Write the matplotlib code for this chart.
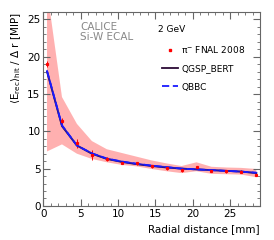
import numpy as np
import matplotlib
matplotlib.use("Agg")
import matplotlib.pyplot as plt
from matplotlib.ticker import MultipleLocator
from matplotlib.lines import Line2D

plt.rcParams["mathtext.default"] = "regular"

# radial bins [mm]
r = [0.5, 2.5, 4.5, 6.5, 8.5, 10.5, 12.5, 14.5, 16.5, 18.5, 20.5, 22.5, 24.5, 26.5, 28.5]

# pi- FNAL 2008 data
data = [19.0, 11.4, 8.4, 6.8, 6.3, 5.8, 5.7, 5.3, 5.05, 4.75, 5.2, 4.7, 4.65, 4.6, 4.2]
data_err = [0.4, 0.4, 0.6, 0.7, 0.3, 0.2, 0.2, 0.2, 0.2, 0.2, 0.2, 0.2, 0.2, 0.2, 0.2]
# systematic band
band_lo = [7.3, 8.25, 7.0, 6.3, 5.85, 5.5, 5.3, 4.95, 4.65, 4.4, 4.65, 4.3, 4.25, 4.2, 3.85]
band_hi = [29.0, 14.6, 11.0, 8.7, 7.6, 7.1, 6.6, 6.1, 5.7, 5.35, 5.85, 5.25, 5.15, 5.1, 4.95]

# simulations
qgsp = [18.0, 10.7, 8.1, 7.0, 6.3, 5.9, 5.6, 5.35, 5.15, 5.0, 4.9, 4.8, 4.7, 4.6, 4.4]
qbbc = [18.1, 10.8, 8.1, 7.05, 6.35, 5.95, 5.65, 5.4, 5.2, 5.0, 4.9, 4.8, 4.7, 4.6, 4.45]

fig = plt.figure(figsize=(2.74, 2.40), dpi=100)
ax = fig.add_axes([0.158, 0.142, 0.791, 0.808])

ax.fill_between(r, band_lo, band_hi, facecolor="#ffa3a3", alpha=0.85, lw=0)
ax.errorbar(r, data, yerr=data_err, fmt="s", ms=1.3, color="red", elinewidth=0.7, capsize=0)
ax.plot(r, qgsp, color="#2b0a35", lw=1.3)
ax.plot(r, qbbc, color="#1a1aff", lw=1.3, alpha=0.7)
ax.plot(r, qbbc, color="#1a1aff", lw=1.3, ls=(0, (4, 2)))

ax.set_xlim(0, 29)
ax.set_ylim(0, 26)
ax.xaxis.set_major_locator(MultipleLocator(5))
ax.xaxis.set_minor_locator(MultipleLocator(1))
ax.yaxis.set_major_locator(MultipleLocator(5))
ax.yaxis.set_minor_locator(MultipleLocator(1))
ax.tick_params(which="both", direction="in", top=True, right=True, labelsize=7.5,
               color="#666666", pad=2)
ax.tick_params(which="major", length=5)
ax.tick_params(which="minor", length=2.5)
for s in ax.spines.values():
    s.set_color("#666666")

ax.set_xlabel("Radial distance [mm]", fontsize=7.5, loc="right", labelpad=4)
ax.set_ylabel(r"$\langle E_{rec}\rangle_{hit}$ / $\Delta$ r [MIP]", fontsize=7.5, loc="top", labelpad=3)

ax.text(0.17, 0.95, "CALICE\nSi-W ECAL", transform=ax.transAxes, fontsize=7.5,
        color="#888888", va="top", linespacing=1.0)
ax.text(0.53, 0.91, "2 GeV", transform=ax.transAxes, fontsize=6.5, va="center")

handles = [
    Line2D([], [], marker="s", ms=1.5, color="red", ls="none"),
    Line2D([], [], color="#2b0a35", lw=1.3),
    Line2D([], [], color="#1a1aff", lw=1.3, ls=(0, (4, 2))),
]
labels = [r"$\pi^{-}$ FNAL 2008", "QGSP_BERT", "QBBC"]
ax.legend(handles, labels, loc="upper left", bbox_to_anchor=(0.525, 0.86), frameon=False,
          fontsize=6.5, handlelength=1.8, labelspacing=1.05, handletextpad=0.4, borderpad=0)

fig.savefig("out.png", dpi=100)
